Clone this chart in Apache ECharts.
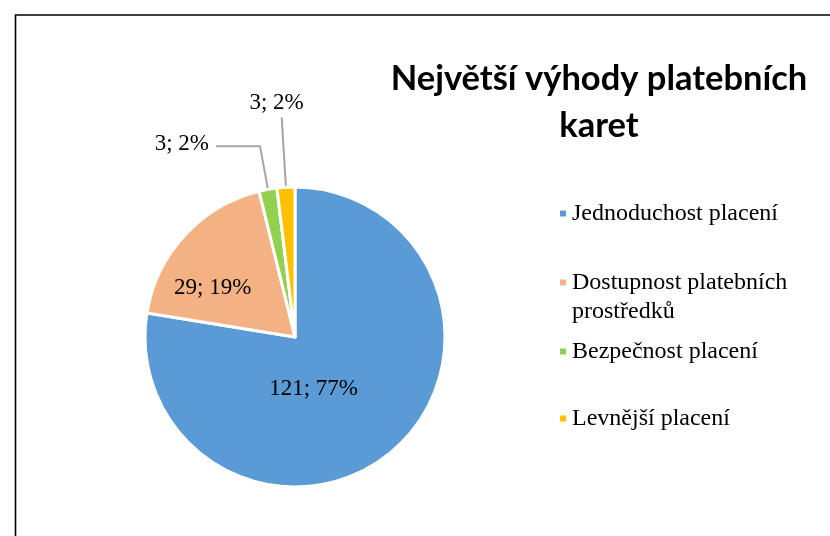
<!DOCTYPE html>
<html>
<head>
<meta charset="utf-8">
<script src="https://cdn.jsdelivr.net/npm/echarts@6/dist/echarts.min.js"></script>
<style>
  html, body { margin: 0; padding: 0; background: #fff; }
  #chart { width: 830px; height: 536px; }
</style>
</head>
<body>
<div id="chart"></div>
<script>
var categories = ['Jednoduchost placení', 'Dostupnost platebních prostředků', 'Bezpečnost placení', 'Levnější placení'];
// leading blank line keeps the marker beside the first line of the wrapped entry
var legendLabels = ['Jednoduchost placení', ' \nDostupnost platebních\nprostředků', 'Bezpečnost placení', 'Levnější placení'];
var counts = [121, 29, 3, 3];
var percents = [77, 19, 2, 2];
var colors = ['#5B9BD5', '#F4B183', '#92D050', '#FFC000'];

// legend rows are not evenly spaced in the original, so one legend per item
var legendTops = [199, 239, 337, 404];
var serif = '"Liberation Serif", "Times New Roman", serif';

var pieData = categories.map(function (name, i) {
    var item = { name: name, value: counts[i], itemStyle: { color: colors[i] } };
    if (i < 2) {
        item.label = { position: 'inside' };
        item.labelLine = { show: false };
    } else {
        item.label = { position: 'outside' };
    }
    return item;
});
pieData[2].labelLine = { show: true, length: 44, length2: 44 };
pieData[3].labelLine = { show: true, length: 70, length2: 0 };

// nudges for the label positions used in the original
var labelShift = [[-32, -7], [-25, 4], [-2, -2], [27, -14]];

var legends = categories.map(function (name, i) {
    return {
        data: [name],
        left: 558,
        top: legendTops[i],
        padding: 0,
        orient: 'vertical',
        icon: 'rect',
        itemWidth: 8,
        itemHeight: 8,
        selectedMode: false,
        formatter: function () { return legendLabels[i]; },
        textStyle: {
            fontFamily: serif,
            fontSize: 24,
            color: '#000',
            lineHeight: 29
        }
    };
});

var option = {
    animation: false,
    backgroundColor: '#fff',
    title: {
        text: 'Největší výhody platebních\nkaret',
        left: 594,
        top: 50,
        textAlign: 'center',
        textStyle: {
            fontFamily: 'Lato, "Open Sans", sans-serif',
            fontWeight: 'bold',
            fontSize: 34.5,
            lineHeight: 47,
            color: '#000'
        }
    },
    legend: legends,
    graphic: [{
        type: 'rect',
        silent: true,
        shape: { x: 15.5, y: 15, width: 900, height: 600 },
        style: { fill: 'none', stroke: '#000', lineWidth: 1.6 }
    }],
    series: [{
        type: 'pie',
        center: [295, 337],
        radius: 150,
        startAngle: 90,
        clockwise: true,
        avoidLabelOverlap: false,
        itemStyle: { borderColor: '#fff', borderWidth: 3 },
        label: {
            fontFamily: serif,
            fontSize: 23,
            color: '#000',
            formatter: function (p) {
                return counts[p.dataIndex] + '; ' + percents[p.dataIndex] + '%';
            }
        },
        labelLine: {
            lineStyle: { color: '#A6A6A6', width: 2 }
        },
        labelLayout: function (p) {
            var s = labelShift[p.dataIndex];
            return { dx: s[0], dy: s[1] };
        },
        emphasis: { disabled: true },
        data: pieData
    }]
};

var myChart = echarts.init(document.getElementById('chart'));
myChart.setOption(option);
</script>
</body>
</html>
